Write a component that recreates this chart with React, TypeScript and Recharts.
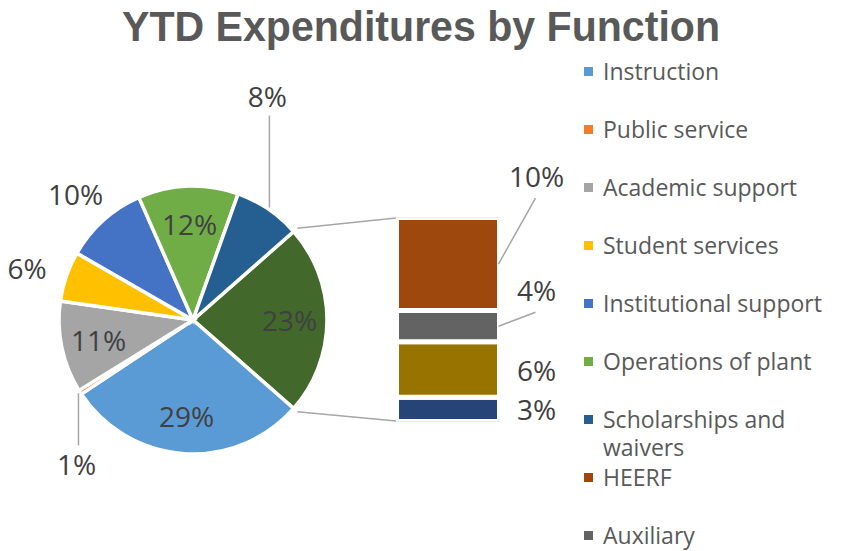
import React from "react";
import { PieChart, Pie, Cell, BarChart, Bar, XAxis, YAxis, LabelList } from "recharts";

// Main functions shown as pie slices (percent of YTD total)
const categories = [
  "Instruction",
  "Public service",
  "Academic support",
  "Student services",
  "Institutional support",
  "Operations of plant",
  "Scholarships and waivers",
];
const categoryShares = [29, 0.52, 11, 6, 10, 12, 8];
const categoryColors = ["#5B9BD5", "#ED7D31", "#A5A5A5", "#FFC000", "#4472C4", "#70AD47", "#255E91"];

// Functions broken out into the side bar (the combined "other" slice)
const breakoutNames = ["HEERF", "Auxiliary", "breakout3", "breakout4"];
const breakoutShares = [10.4, 3.5, 6.2, 2.7];
const breakoutColors = ["#9E480E", "#636363", "#997300", "#264478"];
const OTHER_COLOR = "#43682B";

const W = 841;
const H = 551;
const FONT = "'Open Sans', sans-serif";
const TEXT = "#404040";
const LEGEND_TEXT = "#595959";
const LEADER = "#A6A6A6";

const PIE_CX = 193;
const PIE_CY = 320;
const PIE_R = 134;

// visible bar column (the white stroke eats 2.5px on each side)
const BAR_LEFT = 399;
const BAR_RIGHT = 497;
const BAR_TOP = 220;
const BAR_BOTTOM = 419;
const GAP = 5;

const otherTotal = breakoutShares.reduce((a, b) => a + b, 0);
const grandTotal = otherTotal + categoryShares.reduce((a, b) => a + b, 0);
const startAngle = ((otherTotal / grandTotal) * 360) / 2;

const pieData = [
  { name: "Other", value: otherTotal, fill: OTHER_COLOR },
  ...categories.map((name, i) => ({ name, value: categoryShares[i], fill: categoryColors[i] })),
];
// how each pie label is placed, same order as pieData
const pieLabelModes = ["in", "in", "down", "in", "out", "out", "in", "up"];

const barRow: Record<string, string | number> = { name: "Other" };
breakoutNames.forEach((n, i) => {
  barRow[n] = breakoutShares[i];
});
const barData = [barRow];

const RAD = Math.PI / 180;
const pct = (v: number) => `${Math.round((v / grandTotal) * 100)}%`;

const renderPieLabel = (props: any) => {
  const { cx, cy, midAngle, outerRadius, index, value } = props;
  const mode = pieLabelModes[index];
  const cos = Math.cos(-midAngle * RAD);
  const sin = Math.sin(-midAngle * RAD);
  const text = pct(value);
  const common = {
    fill: TEXT,
    fontSize: 28,
    fontFamily: FONT,
    textAnchor: "middle" as const,
    dominantBaseline: "central" as const,
  };
  if (mode === "in" || mode === "out") {
    const r = mode === "in" ? outerRadius * 0.72 : outerRadius * 1.31;
    return (
      <text key={`pl-${index}`} x={cx + r * cos} y={cy + r * sin + (mode === "out" ? 5 : 0)} {...common}>
        {text}
      </text>
    );
  }
  const ex = cx + (outerRadius + 2) * cos;
  const ey = cy + (outerRadius + 2) * sin;
  const dir = mode === "up" ? -1 : 1;
  const len = mode === "up" ? 92 : 52;
  return (
    <g key={`pl-${index}`}>
      <line x1={ex} y1={ey} x2={ex} y2={ey + dir * len} stroke={LEADER} strokeWidth={1.5} />
      <text x={ex - 2} y={ey + dir * (len + 19)} {...common}>
        {text}
      </text>
    </g>
  );
};

// labels of the top two bar segments are lifted with a leader line
const barLabelLift = [88, 36, 0, 0];

const makeBarLabel = (seriesIndex: number) => (props: any) => {
  const { x, y, width, height, value } = props;
  const right = x + width - 1;
  const midY = y + height / 2;
  const lift = barLabelLift[seriesIndex];
  const lx = right + 38;
  const ly = midY - lift;
  return (
    <g>
      {lift > 0 && (
        <line x1={right} y1={midY} x2={lx - 1} y2={ly + 22} stroke={LEADER} strokeWidth={1.5} />
      )}
      <text
        x={lx}
        y={ly}
        fill={TEXT}
        fontSize={28}
        fontFamily={FONT}
        textAnchor="middle"
        dominantBaseline="central"
      >
        {pct(value)}
      </text>
    </g>
  );
};

const legendNames = [...categories, ...breakoutNames.slice(0, 2)];
const legendColors = [...categoryColors, ...breakoutColors.slice(0, 2)];

export default function App() {
  const a = startAngle * RAD;
  const cr = PIE_R + 5;
  const topX = PIE_CX + cr * Math.cos(a);
  const topY = PIE_CY - cr * Math.sin(a);
  const botY = PIE_CY + cr * Math.sin(a);

  return (
    <div
      style={{
        position: "absolute",
        left: 0,
        top: 0,
        width: W,
        height: H,
        background: "#fff",
        overflow: "hidden",
        fontFamily: FONT,
      }}
    >
      <div style={{ position: "absolute", left: 0, top: 0 }}>
        <PieChart width={W} height={H} margin={{ top: 0, right: 0, bottom: 0, left: 0 }}>
          <Pie
            data={pieData}
            dataKey="value"
            nameKey="name"
            cx={PIE_CX}
            cy={PIE_CY}
            outerRadius={PIE_R}
            startAngle={startAngle}
            endAngle={startAngle - 360}
            stroke="#fff"
            strokeWidth={3.5}
            label={renderPieLabel}
            labelLine={false}
            isAnimationActive={false}
          >
            {pieData.map((d) => (
              <Cell key={d.name} fill={d.fill} />
            ))}
          </Pie>
        </PieChart>
      </div>

      <div style={{ position: "absolute", left: 0, top: 0 }}>
        <BarChart
          width={W}
          height={H}
          data={barData}
          barCategoryGap={0}
          barGap={0}
          margin={{
            left: BAR_LEFT - GAP / 2,
            right: W - BAR_RIGHT - GAP / 2,
            top: BAR_TOP - GAP / 2,
            bottom: H - BAR_BOTTOM - GAP / 2,
          }}
        >
          <XAxis dataKey="name" hide />
          <YAxis hide domain={[0, otherTotal]} allowDataOverflow />
          {breakoutNames
            .map((n, i) => (
              <Bar
                key={n}
                dataKey={n}
                stackId="other"
                fill={breakoutColors[i]}
                stroke="#fff"
                strokeWidth={GAP}
                isAnimationActive={false}
              >
                <LabelList dataKey={n} content={makeBarLabel(i)} />
              </Bar>
            ))
            .reverse()}
        </BarChart>
      </div>

      <svg width={W} height={H} style={{ position: "absolute", left: 0, top: 0 }}>
        <text
          x={421}
          y={41}
          textAnchor="middle"
          fontSize={42}
          fontWeight="bold"
          fontFamily="'Liberation Sans', Arial, sans-serif"
          fill="#595959"
          textLength={598}
          lengthAdjust="spacingAndGlyphs"
        >
          YTD Expenditures by Function
        </text>
        <line x1={topX} y1={topY} x2={BAR_LEFT - 3} y2={BAR_TOP - 2} stroke={LEADER} strokeWidth={1.5} />
        <line x1={topX} y1={botY} x2={BAR_LEFT - 3} y2={BAR_BOTTOM + 2} stroke={LEADER} strokeWidth={1.5} />
      </svg>

      {legendNames.map((name, i) => (
        <div
          key={name}
          style={{
            position: "absolute",
            left: 584,
            top: 71 + i * 58 - 14,
            display: "flex",
            alignItems: "flex-start",
          }}
        >
          <div
            style={{
              width: 9,
              height: 9,
              marginTop: 10,
              marginRight: 10,
              background: legendColors[i],
            }}
          />
          <div style={{ width: 238, fontSize: 23, lineHeight: "28px", color: LEGEND_TEXT }}>{name}</div>
        </div>
      ))}
    </div>
  );
}
